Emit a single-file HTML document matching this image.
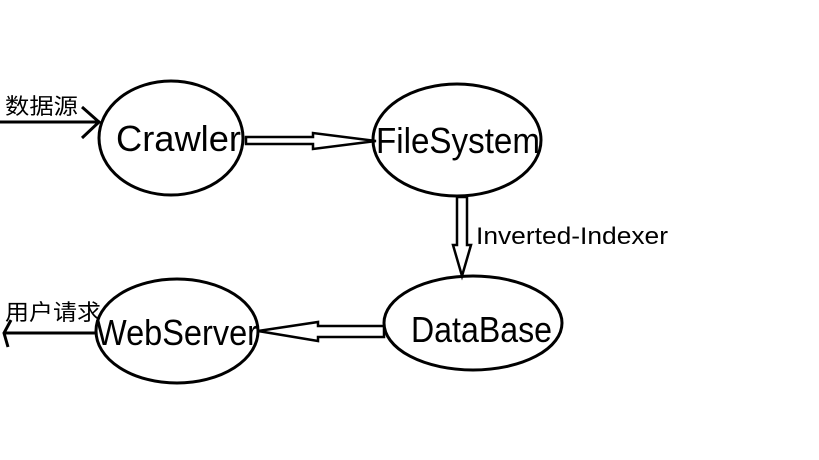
<!DOCTYPE html>
<html><head><meta charset="utf-8"><style>html,body{margin:0;padding:0;background:#fff}svg{display:block}</style></head>
<body>
<svg width="819" height="460" viewBox="0 0 819 460" xmlns="http://www.w3.org/2000/svg" font-family="Liberation Sans, Noto Sans CJK SC, sans-serif">
<rect width="819" height="460" fill="#fff"/>
<g fill="none" stroke="#000" stroke-width="3">
<ellipse cx="171" cy="138" rx="72" ry="57"/>
<ellipse cx="457" cy="140" rx="84" ry="56"/>
<ellipse cx="473" cy="323" rx="89" ry="47"/>
<ellipse cx="177" cy="331" rx="81" ry="52"/>
<line x1="0" y1="122" x2="100" y2="122"/>
<polyline points="82,107 99,122 82,138"/>
<line x1="5" y1="333" x2="96" y2="333"/>
<polyline points="11,320 4,333 8,347"/>
</g>
<g fill="none" stroke="#000" stroke-width="2.5">
<path d="M246,137 H313 V133 L376,141 L313,149 V144 H246 Z"/>
<path d="M457,197 H467 V245 H471 L462,276 L453,245 H457 Z"/>
<path d="M384,326 H318 V322 L258,331 L318,341 V337 H384 Z"/>
</g>
<g fill="#000">
<text x="116" y="151" font-size="36" textLength="125" lengthAdjust="spacingAndGlyphs">Crawler</text>
<text x="376" y="153" font-size="36" textLength="164" lengthAdjust="spacingAndGlyphs">FileSystem</text>
<text x="411" y="342" font-size="36" textLength="141" lengthAdjust="spacingAndGlyphs">DataBase</text>
<text x="96" y="345" font-size="36" textLength="162" lengthAdjust="spacingAndGlyphs">WebServer</text>
<text x="476" y="244" font-size="24" textLength="192" lengthAdjust="spacingAndGlyphs">Inverted-Indexer</text>
<text x="5" y="114" font-size="22" textLength="73" lengthAdjust="spacingAndGlyphs">数据源</text>
<text x="5" y="320" font-size="22" textLength="96" lengthAdjust="spacingAndGlyphs">用户请求</text>
</g>
</svg>
</body></html>
